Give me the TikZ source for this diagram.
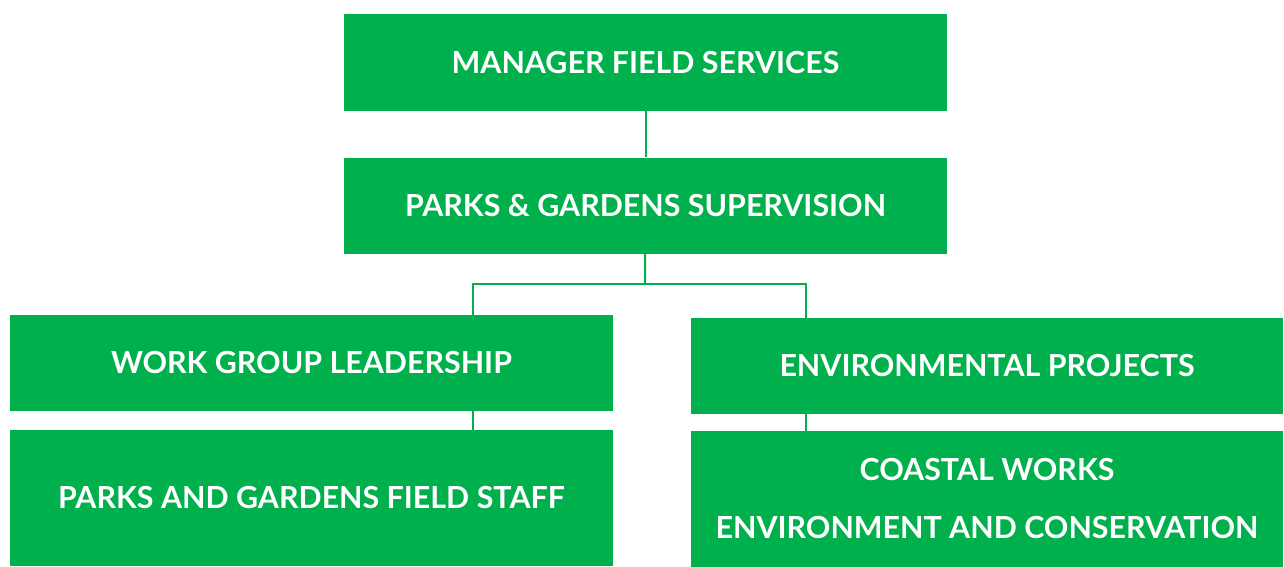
\documentclass[tikz,border=0pt]{standalone}
\usepackage{fontspec}
\setmainfont{Lato}
\usetikzlibrary{positioning}
\definecolor{parkgreen}{HTML}{00B04C}

\begin{document}
\begin{tikzpicture}[x=0.75pt, y=-0.75pt,
  box/.style={fill=parkgreen, text=white, inner sep=0pt, align=center,
    font=\bfseries\fontsize{22.8}{43.5}\selectfont},
  wide/.style={box, minimum width=452pt, minimum height=72pt},
  narrow/.style={box, minimum width=444pt, minimum height=72pt},
  tall/.style={minimum height=102pt},
  link/.style={draw=parkgreen, line width=1.5pt}]
  \useasboundingbox (0,0) rectangle (1284,567);

  \node[wide] (manager) at (645.5,62.5) {MANAGER FIELD SERVICES};
  \node[wide] (supervision) at (645.5,205.5) {PARKS \& GARDENS SUPERVISION};
  \node[wide] (leadership) at (311.5,363) {WORK GROUP LEADERSHIP};
  \node[narrow] (projects) at (987,366) {ENVIRONMENTAL PROJECTS};
  \node[wide, tall] (staff) at (311.5,498) {PARKS AND GARDENS FIELD STAFF};
  \node[narrow, tall] (coastal) at (987,499) {COASTAL WORKS\\ENVIRONMENT AND CONSERVATION};

  \coordinate (split) at (645,284);
  \coordinate (leftdrop) at (473,315);
  \coordinate (rightdrop) at (806,318);

  \draw[link] (manager) -- (supervision);
  \draw[link] (supervision) -- (split);
  \draw[link] (split) -| (leftdrop);
  \draw[link] (split) -| (rightdrop);
  \draw[link] (leadership.south -| leftdrop) -- (staff.north -| leftdrop);
  \draw[link] (projects.south -| rightdrop) -- (coastal.north -| rightdrop);
\end{tikzpicture}
\end{document}
